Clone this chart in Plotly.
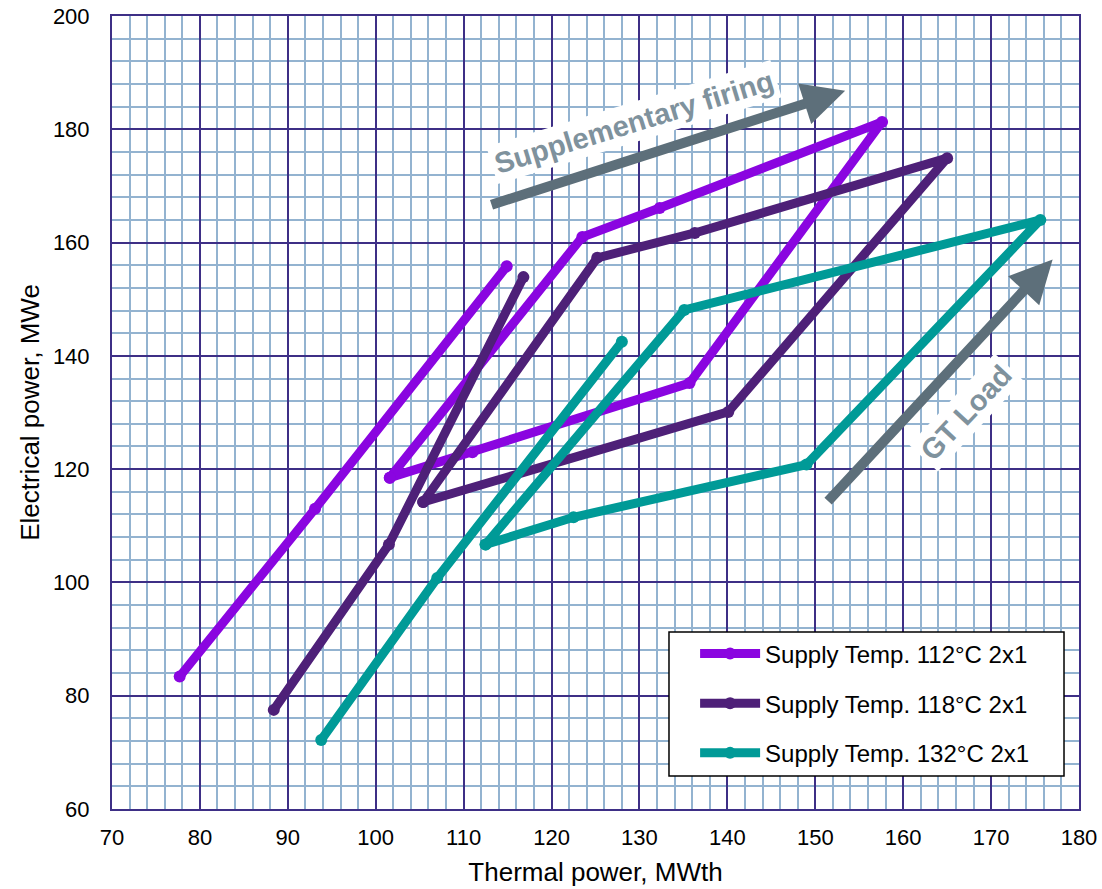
import plotly.graph_objects as go

# Data (None = break in the line)
s112_x = [77.7, 93.1, 114.9, None, 101.6, 123.5, 132.3, 157.6, 135.7, 111.0, 101.6]
s112_y = [83.4, 113.0, 155.8, None, 118.5, 161.0, 166.1, 181.3, 135.2, 123.0, 118.5]

s118_x = [88.4, 101.5, 116.8, None, 105.4, 125.2, 136.3, 165.0, 140.1, 105.4]
s118_y = [77.5, 106.7, 153.9, None, 114.2, 157.3, 161.7, 174.9, 130.1, 114.2]

s132_x = [93.8, 107.0, 128.0, None, 112.5, 135.1, 175.6, 149.0, 122.5, 112.5]
s132_y = [72.2, 100.8, 142.5, None, 106.7, 148.1, 164.0, 120.8, 111.5, 106.7]

series_names = ["Supply Temp. 112°C 2x1", "Supply Temp. 118°C 2x1", "Supply Temp. 132°C 2x1"]
series_colors = ["#8A05E0", "#4E2078", "#009A97"]

x_ticks = [70, 80, 90, 100, 110, 120, 130, 140, 150, 160, 170, 180]
y_ticks = [60, 80, 100, 120, 140, 160, 180, 200]

# Arrow annotations: (tail x, tail y, head x, head y)
arrow_supp = (113.0, 166.6, 153.4, 186.8)
arrow_gt = (151.3, 114.1, 177.0, 157.0)

FONT = "Liberation Sans, Arial"

fig = go.Figure()
for i, (xs, ys) in enumerate([(s112_x, s112_y), (s118_x, s118_y), (s132_x, s132_y)]):
    fig.add_trace(go.Scatter(
        x=xs, y=ys, mode="lines+markers", name=series_names[i],
        line=dict(color=series_colors[i], width=9),
        marker=dict(color=series_colors[i], size=12),
        connectgaps=False, legendgroup=str(i),
    ))

grid_major = "#3E2F86"
grid_minor = "#93B3D0"

fig.update_xaxes(
    range=[70, 180], tickvals=x_ticks, showgrid=True, gridcolor=grid_major, gridwidth=1.5,
    minor=dict(dtick=2, tick0=70, showgrid=True, gridcolor=grid_minor, gridwidth=2),
    showline=True, linecolor=grid_major, linewidth=2, mirror=True, zeroline=False,
    automargin=False,
    ticks="", ticklabelstandoff=8, tickfont=dict(family=FONT, size=22, color="#000"),
    title=dict(text="Thermal power, MWth", font=dict(family=FONT, size=26, color="#000"), standoff=13),
)
fig.update_yaxes(
    range=[60, 200], tickvals=y_ticks, showgrid=True, gridcolor=grid_major, gridwidth=1.5,
    minor=dict(dtick=4, tick0=60, showgrid=True, gridcolor=grid_minor, gridwidth=2),
    showline=True, linecolor=grid_major, linewidth=2, mirror=True, zeroline=False,
    automargin=False,
    ticks="", ticklabelstandoff=16, tickfont=dict(family=FONT, size=22, color="#000"),
    title=dict(text="Electrical power, MWe", font=dict(family=FONT, size=26, color="#000"), standoff=6),
)

arrow_color = "#5D6F7A"
text_color = "#7F929D"
for (tx, ty, hx, hy) in [arrow_supp, arrow_gt]:
    fig.add_annotation(x=hx, y=hy, ax=tx, ay=ty, xref="x", yref="y", axref="x", ayref="y",
                       showarrow=True, arrowhead=2, arrowsize=0.85, arrowwidth=10,
                       arrowcolor=arrow_color, text="")

fig.add_annotation(x=129.4, y=181.3, xref="x", yref="y", text="<b>Supplementary firing</b>",
                   showarrow=False, textangle=-17, bgcolor="white", borderpad=3,
                   font=dict(family=FONT, size=29, color=text_color))
fig.add_annotation(x=167.1, y=130.0, xref="x", yref="y", text="<b>GT Load</b>",
                   showarrow=False, textangle=-47, bgcolor="white", borderpad=3,
                   font=dict(family=FONT, size=29, color=text_color))

# Legend frame
fig.add_shape(type="rect", xref="paper", yref="paper", x0=0.576, x1=0.9845, y0=0.0416, y1=0.2232,
              line=dict(color="#000", width=1.5), fillcolor="white", layer="above")

fig.update_layout(
    width=1102, height=889, autosize=False,
    margin=dict(l=112, r=23, t=16, b=80),
    plot_bgcolor="white", paper_bgcolor="white",
    legend=dict(x=0.603, y=0.224, xanchor="left", yanchor="top",
                bgcolor="rgba(0,0,0,0)", borderwidth=0,
                font=dict(family=FONT, size=24, color="#000"),
                itemwidth=60, tracegroupgap=15.5, traceorder="grouped"),
    font=dict(family=FONT),
)

fig.write_html("out.html")
